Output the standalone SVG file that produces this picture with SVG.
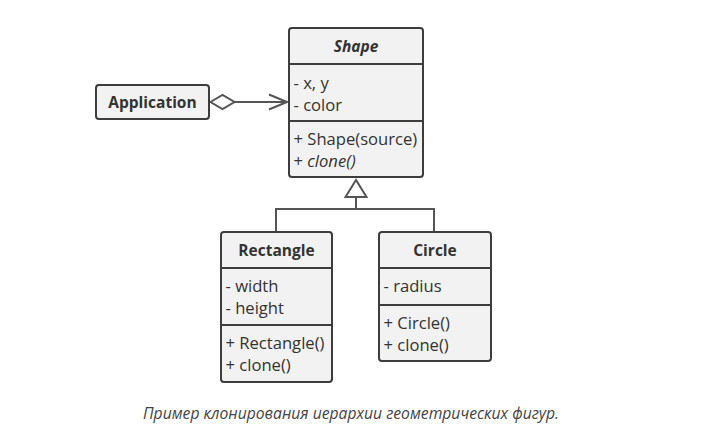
<svg xmlns="http://www.w3.org/2000/svg" width="702" height="432" viewBox="0 0 702 432">
<style>
.box{fill:#f2f2f2;stroke:#3d3d3d;stroke-width:2}
.div{stroke:#3d3d3d;stroke-width:2;fill:none}
.t{font-family:"Open Sans","Noto Sans",sans-serif;font-size:16.6px;fill:#333}
.b{font-weight:bold;font-size:15.5px}
.i{font-style:italic}
.c{text-anchor:middle}
.ln{stroke:#555;stroke-width:2;fill:none}
</style>
<rect width="702" height="432" fill="#ffffff"/>
<g id="connectors">
<path class="ln" d="M235 102 H286"/>
<path class="ln" d="M269 94.5 L287 102 L269 109.5"/>
<path d="M210.5 102 L222.5 95 L234.5 102 L222.5 109 Z" fill="#fff" stroke="#555" stroke-width="2"/>
<path class="ln" d="M356 197 V209 M276 232 V209 H434 V232"/>
<path d="M356 180 L345.5 197 H366.5 Z" fill="#fff" stroke="#555" stroke-width="2"/>
</g>
<g id="application">
<rect class="box" x="96" y="85" width="113" height="34" rx="3"/>
<text class="t b c" x="152.5" y="107.5">Application</text>
</g>
<g id="shape">
<rect class="box" x="289" y="28" width="134" height="149" rx="3"/>
<path class="div" d="M289 64 H423 M289 121 H423"/>
<text class="t b i c" x="356" y="52">Shape</text>
<text class="t" x="293.5" y="89">- x, y</text>
<text class="t" x="293.5" y="111">- color</text>
<text class="t" x="293.5" y="145">+ Shape(source)</text>
<text class="t" x="293.5" y="167">+ <tspan class="i">clone()</tspan></text>
</g>
<g id="rectangle">
<rect class="box" x="221" y="232" width="111" height="150" rx="3"/>
<path class="div" d="M221 268 H332 M221 325 H332"/>
<text class="t b c" x="276.5" y="256">Rectangle</text>
<text class="t" x="225.5" y="292">- width</text>
<text class="t" x="225.5" y="314">- height</text>
<text class="t" x="225.5" y="349">+ Rectangle()</text>
<text class="t" x="225.5" y="371">+ clone()</text>
</g>
<g id="circle">
<rect class="box" x="379" y="232" width="112" height="129" rx="3"/>
<path class="div" d="M379 268 H491 M379 305 H491"/>
<text class="t b c" x="435" y="256">Circle</text>
<text class="t" x="383.5" y="292">- radius</text>
<text class="t" x="383.5" y="329">+ Circle()</text>
<text class="t" x="383.5" y="351">+ clone()</text>
</g>
<text class="t i c" x="351" y="419" style="font-size:15.7px;fill:#444">Пример клонирования иерархии геометрических фигур.</text>
</svg>
